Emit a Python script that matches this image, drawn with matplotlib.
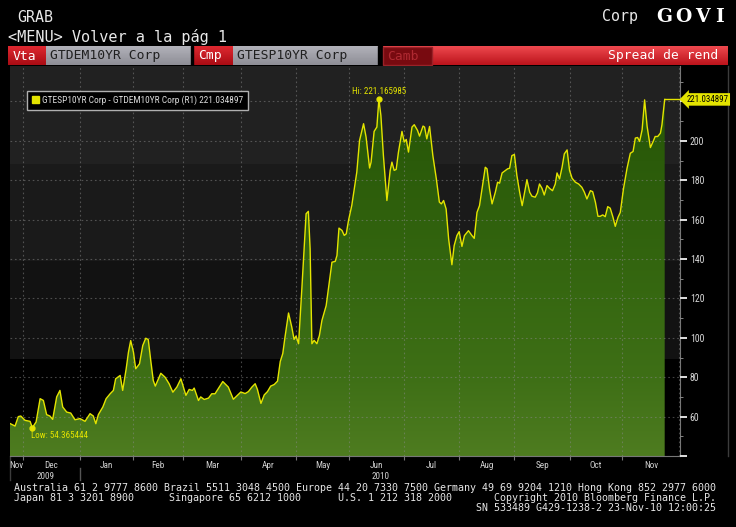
import matplotlib.pyplot as plt
import numpy as np
from matplotlib import font_manager
from matplotlib.patches import Patch, Polygon, Rectangle
from matplotlib.transforms import blended_transform_factory


# business-day index, 0 = 24-Nov-2009
day = [
    0.0, 2.0, 3.3, 4.3, 6.0, 8.0, 8.9, 10.4, 12.0, 13.3,
    14.6, 15.9, 17.0, 18.6, 19.9, 21.0, 22.6, 24.2, 25.9, 27.9,
    29.9, 31.9, 33.2, 34.2, 35.2, 37.0, 38.3, 39.9, 41.2, 42.1,
    43.9, 44.9, 46.3, 47.2, 48.1, 49.2, 50.1, 51.6, 52.9, 54.1,
    55.1, 56.1, 57.1, 57.9, 60.1, 61.8, 63.4, 64.9, 66.5, 68.1,
    70.1, 71.4, 72.7, 73.4, 75.1, 76.0, 77.4, 79.1, 80.4, 81.7,
    84.8, 87.0, 89.0, 90.4, 92.0, 93.7, 95.0, 96.4, 97.7, 98.6,
    100.0, 101.3, 102.6, 103.9, 105.3, 106.6, 107.7, 108.7, 109.6, 111.0,
    112.3, 113.2, 114.0, 115.0, 116.3, 118.0, 118.9, 119.6, 120.3, 121.2,
    122.3, 123.3, 124.3, 126.0, 126.9, 128.3, 129.6, 130.3, 131.1, 132.3,
    133.2, 134.0, 134.9, 136.2, 137.6, 138.2, 139.3, 140.9, 141.9, 143.3,
    143.9, 145.1, 146.2, 147.0, 147.8, 148.8, 150.2, 151.5, 152.2, 153.1,
    153.9, 154.8, 156.2, 157.1, 157.9, 158.8, 160.2, 161.1, 162.4, 163.2,
    164.6, 165.2, 166.1, 167.2, 168.5, 169.9, 171.1, 171.9, 172.8, 173.8,
    174.8, 176.1, 177.0, 178.1, 179.0, 180.1, 181.1, 182.7, 184.1, 185.0,
    186.1, 187.1, 188.5, 189.4, 190.1, 191.1, 192.1, 193.4, 194.3, 195.1,
    196.1, 197.4, 198.3, 199.1, 200.0, 201.0, 202.0, 203.1, 204.1, 205.1,
    206.0, 207.1, 208.0, 209.3, 210.2, 211.0, 212.0, 212.9, 214.0, 215.0,
    216.2, 217.3, 218.0, 219.0, 220.0, 220.9, 222.0, 223.0, 224.0, 225.3,
    226.6, 227.9, 228.9, 229.9, 231.3, 232.2, 233.3, 234.3, 235.2, 236.2,
    237.2, 238.2, 239.2, 240.3, 241.2, 242.3, 243.2, 244.5, 245.9, 247.2,
    248.3, 249.2, 250.1, 250.9, 251.9, 252.9, 253.9, 255.2, 256.3, 257.1,
    258.1, 259.2, 259.8, 260.9,
]
# Spain 10y minus Germany 10y, bp
spread = [
    56.5, 55.2, 60.0, 60.3, 58.1, 57.6, 54.365444, 57.3, 69.1, 68.2,
    61.0, 60.3, 58.6, 70.0, 73.3, 64.9, 62.3, 61.8, 58.4, 59.0,
    57.6, 61.5, 60.3, 56.4, 61.0, 64.9, 69.1, 71.6, 73.3, 79.2,
    80.9, 73.3, 84.3, 92.7, 98.6, 92.7, 84.3, 86.8, 96.1, 99.8,
    99.1, 88.4, 78.3, 75.5, 82.0, 80.0, 76.7, 72.4, 75.0, 79.2,
    70.8, 73.8, 73.3, 74.5, 68.2, 70.0, 68.7, 69.4, 71.6, 71.6,
    77.8, 75.0, 68.8, 70.5, 72.5, 71.7, 72.7, 75.0, 76.7, 73.8,
    66.7, 71.0, 72.7, 75.5, 76.3, 78.0, 88.0, 92.0, 100.5, 112.6,
    105.4, 99.2, 100.9, 97.0, 124.9, 163.0, 164.2, 145.2, 97.0, 98.7,
    97.0, 101.2, 108.8, 116.4, 124.9, 138.4, 138.8, 141.8, 155.7, 154.5,
    152.0, 152.8, 159.6, 167.2, 179.0, 184.1, 200.2, 208.7, 201.9, 186.2,
    189.2, 204.8, 207.0, 221.165985, 212.9, 192.6, 169.7, 185.0, 189.2, 185.0,
    185.5, 194.3, 204.8, 199.4, 200.7, 194.3, 207.0, 208.2, 205.3, 202.4,
    207.5, 207.0, 201.0, 207.3, 192.6, 180.7, 168.9, 168.0, 169.7, 165.4,
    150.2, 137.1, 146.8, 151.9, 153.9, 146.4, 151.9, 154.4, 151.9, 150.5,
    163.7, 167.1, 179.0, 186.6, 185.8, 175.6, 168.0, 173.9, 179.0, 178.5,
    183.7, 184.9, 185.8, 186.1, 192.5, 193.1, 182.4, 173.9, 167.1, 173.9,
    180.3, 173.9, 171.9, 171.4, 173.6, 178.1, 175.9, 172.5, 177.3, 175.9,
    174.7, 178.1, 183.7, 180.7, 186.6, 193.4, 195.4, 184.9, 181.0, 179.0,
    178.1, 176.4, 173.9, 170.5, 174.7, 174.2, 168.8, 161.7, 161.7, 162.4,
    161.5, 166.6, 165.8, 161.2, 156.6, 161.2, 163.7, 175.9, 186.1, 193.7,
    194.6, 201.4, 201.7, 199.7, 205.6, 220.8, 207.3, 196.6, 199.7, 202.2,
    202.2, 203.9, 208.1, 221.034897,
]
assert len(day) == len(spread)

month_starts = [5, 28, 49, 69, 92, 114, 135, 157, 179, 201, 223, 244]
month_names = ["Nov", "Dec", "Jan", "Feb", "Mar", "Apr", "May", "Jun",
               "Jul", "Aug", "Sep", "Oct", "Nov"]
year_names = ["2009", "2010"]
y_ticks = [40, 60, 80, 100, 120, 140, 160, 180, 200, 220]
x_end = 267
y_lo, y_hi = 40, 238

series_name = "GTESP10YR Corp - GTDEM10YR Corp (R1)"
sell_ticker = "GTDEM10YR Corp"
buy_ticker = "GTESP10YR Corp"
footer_1 = ("Australia 61 2 9777 8600 Brazil 5511 3048 4500 Europe 44 20 7330 7500 "
            "Germany 49 69 9204 1210 Hong Kong 852 2977 6000")
footer_2 = ["Japan 81 3 3201 8900", "Singapore 65 6212 1000", "U.S. 1 212 318 2000",
            "Copyright 2010 Bloomberg Finance L.P."]
footer_3 = "SN 533489 G429-1238-2 23-Nov-10 12:00:25"


def font_exists(name):
    try:
        font_manager.findfont(font_manager.FontProperties(family=name),
                              fallback_to_default=False)
        return True
    except ValueError:
        return False


MONO = "DejaVu Sans Mono"
NARROW, NS = "DejaVu Sans", 0.8
for cand, sc in [("Liberation Sans Narrow", 1.0), ("Arial Narrow", 1.0),
                 ("Roboto Condensed", 0.95), ("PT Sans Narrow", 1.0),
                 ("Archivo Narrow", 0.95), ("Fira Sans Condensed", 0.92)]:
    if font_exists(cand):
        NARROW, NS = cand, sc
        break
YELLOW = "#e4e400"


def grad_rect(axis, x0, x1, y0, y1, top, bottom, z=1):
    t = np.linspace(0, 1, 24)[:, None, None]
    img = np.array(top)[None, None, :] / 255 * (1 - t) + np.array(bottom)[None, None, :] / 255 * t
    axis.imshow(img, extent=(x0, x1, y1, y0), aspect="auto", interpolation="bilinear", zorder=z)


fig = plt.figure(figsize=(7.36, 5.27), dpi=100, facecolor="black")
bg = fig.add_axes([0, 0, 1, 1])
bg.set_facecolor("black")

# top lines
bg.text(17, 17, "GRAB", family=MONO, fontsize=10.8, color="#e8e8e8", va="center")
bg.text(8, 37, "<MENU> Volver a la pág 1", family=MONO, fontsize=11, color="#e8e8e8", va="center")
bg.text(602, 17, "Corp", family=MONO, fontsize=10.8, color="#e8e8e8", va="center")
for ch, cx in zip("GOVI", [664, 683.5, 702.5, 719]):
    bg.text(cx, 17, ch, family="DejaVu Serif", weight="bold", fontsize=13.5,
            color="white", va="center", ha="center")

# red header bar
red_top, red_bot = (238, 72, 78), (188, 20, 28)
grad_rect(bg, 8, 728, 46, 65, red_top, red_bot)
grad_rect(bg, 8, 46, 46, 65, (222, 40, 48), (170, 12, 20), z=2)
grad_rect(bg, 46, 191, 46, 65, (178, 178, 186), (142, 142, 150), z=2)
bg.add_patch(Rectangle((191, 46), 2, 19, color="black", zorder=3))
grad_rect(bg, 193, 233, 46, 65, (222, 40, 48), (170, 12, 20), z=2)
grad_rect(bg, 233, 378, 46, 65, (178, 178, 186), (142, 142, 150), z=2)
bg.add_patch(Rectangle((378, 46), 4, 19, color="black", zorder=3))
bg.add_patch(Rectangle((382.5, 46.5), 49, 18, fc="#780a10", ec="#9a2228", lw=1, zorder=3))
hdr = dict(family=MONO, fontsize=9.4, va="center", zorder=4)
bg.text(13, 56, "Vta", color="white", **hdr)
bg.text(50, 56, sell_ticker, color="#202020", **hdr)
bg.text(198, 56, "Cmp", color="white", **hdr)
bg.text(237, 56, buy_ticker, color="#202020", **hdr)
bg.text(387, 56, "Camb", color="#b02a32", **hdr)
bg.text(718, 56, "Spread de rend", color="white", ha="right", **hdr)

# frame lines around chart
bg.plot([727.5, 727.5], [66, 456], color="#3c3c3c", lw=1)
bg.plot([9.5, 9.5], [456, 480], color="#3c3c3c", lw=1)

# footer
ft = dict(family=MONO, fontsize=7.2, color="#e6e6e6", va="center")
bg.text(14, 488, footer_1, **ft)
for txt, fx in zip(footer_2[:3], [14, 169, 338]):
    bg.text(fx, 498, txt, **ft)
bg.text(716, 498, footer_2[3], ha="right", **ft)
bg.text(716, 508, footer_3, ha="right", **ft)

bg.set_xlim(0, 736)
bg.set_ylim(527, 0)
bg.axis("off")

# main chart
ax = fig.add_axes([10 / 736, (527 - 456) / 527, 670 / 736, 390 / 527])
ax.set_facecolor("black")
edges = np.linspace(y_lo, y_hi, 5)
for lo, hi, c in zip(edges[:-1], edges[1:], ["#000000", "#121212", "#1a1a1a", "#212121"]):
    ax.axhspan(lo, hi, color=c, zorder=0, lw=0)

yy = np.linspace(y_lo, y_hi, 200)
stops_v = [40, 80, 140, 190, 238]
stops_c = np.array([(78, 124, 32), (62, 111, 22), (51, 101, 15), (43, 91, 10), (36, 82, 7)]) / 255
grad = np.stack([np.interp(yy, stops_v, stops_c[:, k]) for k in range(3)], axis=1)[:, None, :]
img = ax.imshow(grad, extent=(0, x_end, y_lo, y_hi), origin="lower", aspect="auto",
                interpolation="bilinear", zorder=1)
verts = [(day[0], y_lo)] + list(zip(day, spread)) + [(day[-1], y_lo)]
clip = Polygon(verts, closed=True, transform=ax.transData, fc="none", ec="none")
ax.add_patch(clip)
img.set_clip_path(clip)

ax.plot(day, spread, color=YELLOW, lw=1.0, zorder=4)
ax.plot([day[-1], x_end], [spread[-1], spread[-1]], color=YELLOW, lw=1.0, zorder=4, clip_on=False)

i_hi = int(np.argmax(spread))
i_lo = int(np.argmin(spread))
ax.plot(day[i_hi], spread[i_hi], "o", ms=3.5, color=YELLOW, zorder=5)
ax.plot(day[i_lo], spread[i_lo], "o", ms=3.5, color=YELLOW, zorder=5)
ax.annotate(f"Hi: {spread[i_hi]:.6f}", (day[i_hi], spread[i_hi]), xytext=(0, 2.5),
            textcoords="offset points", ha="center", va="bottom", color=YELLOW,
            fontsize=6.8 * NS, family=NARROW, zorder=6)
ax.annotate(f"Low: {spread[i_lo]:.6f}", (day[i_lo], spread[i_lo]), xytext=(-1, -2.5),
            textcoords="offset points", ha="left", va="top", color=YELLOW,
            fontsize=6.8 * NS, family=NARROW, zorder=6)

# last value tag
tr = blended_transform_factory(ax.transAxes, ax.transData)
ax.annotate(f"{spread[-1]:.6f}", xy=(1.0, spread[-1]), xycoords=tr, xytext=(4.5, 0),
            textcoords="offset points", ha="left", va="center", color="black",
            fontsize=6.7 * NS, family=NARROW, annotation_clip=False, zorder=7,
            bbox=dict(boxstyle="larrow,pad=0.2", fc=YELLOW, ec="none"))

ax.set_xlim(0, x_end)
ax.set_ylim(y_lo, y_hi)

# grid
ax.set_xticks(month_starts)
ax.set_xticklabels([""] * len(month_starts))
ax.set_yticks(y_ticks)
ax.set_axisbelow(False)
ax.grid(True, which="major", color="#8a8a8a", alpha=0.5, lw=0.8, linestyle=(0, (1.5, 2.5)))
ax.axvline(x_end - 0.4, color="#8a8a8a", alpha=0.5, lw=0.8, linestyle=(0, (1.5, 2.5)))

bounds = [0] + month_starts + [x_end]
mids = [(a + b) / 2 for a, b in zip(bounds[:-1], bounds[1:])]
ax.set_xticks(mids, minor=True)
ax.set_xticklabels(month_names, minor=True)
ax.tick_params(axis="x", which="major", direction="out", length=3, color="#777777")
ax.tick_params(axis="x", which="minor", length=0, pad=3.5, labelsize=6.9 * NS,
               labelcolor="#d0d0d0", labelfontfamily=NARROW)

ax.yaxis.tick_right()
ax.set_yticklabels(["" if t in (40, 220) else str(t) for t in y_ticks])
ax.set_yticks(range(50, 240, 20), minor=True)
ax.tick_params(axis="y", which="major", direction="out", length=5, width=1.4,
               color="#e0e0e0", labelsize=7.4 * NS, labelcolor="#d8d8d8", pad=2,
               labelfontfamily=NARROW)
ax.tick_params(axis="y", which="minor", direction="out", length=2.5, color="#9a9a9a")

for s in ["left", "top"]:
    ax.spines[s].set_visible(False)
ax.spines["right"].set_color("#777777")
ax.spines["bottom"].set_color("#777777")

xt = blended_transform_factory(ax.transData, ax.transAxes)
year_pos = [(bounds[0] + month_starts[1]) / 2, (month_starts[1] + x_end) / 2]
for name, xp in zip(year_names, year_pos):
    ax.text(xp, -0.052, name, transform=xt, ha="center", va="center",
            fontsize=6.9 * NS, color="#d0d0d0", family=NARROW)
ax.plot([month_starts[1], month_starts[1]], [-0.03, -0.062], transform=xt,
        color="#555555", lw=1, clip_on=False)

leg = ax.legend(handles=[Patch(facecolor=YELLOW, edgecolor=YELLOW)],
                labels=[f"{series_name} {spread[-1]:.6f}"],
                loc="upper left", bbox_to_anchor=(17 / 670, 1 - 25 / 390),
                borderaxespad=0, fancybox=False, framealpha=1,
                facecolor="black", edgecolor="#b0b0b0",
                prop=dict(family=NARROW, size=7.1 * NS),
                handlelength=0.75, handleheight=0.75, handletextpad=0.35,
                borderpad=0.5)
leg.get_frame().set_linewidth(1.0)
leg.set_zorder(8)
for t in leg.get_texts():
    t.set_color("#dcdcdc")

fig.savefig("out.png", dpi=100, facecolor="black")
